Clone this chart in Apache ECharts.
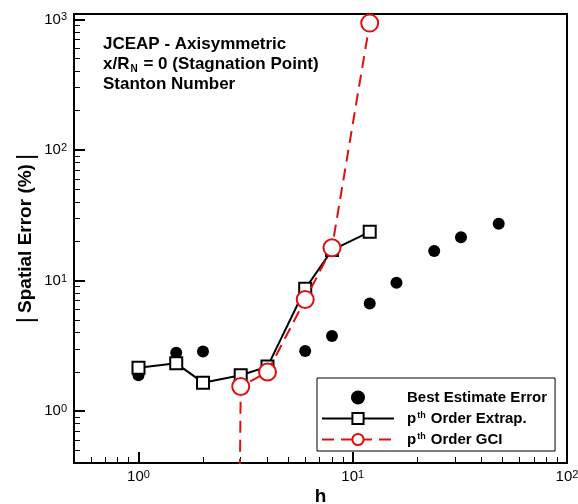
<!DOCTYPE html>
<html><head><meta charset="utf-8">
<script src="https://cdn.jsdelivr.net/npm/echarts@6/dist/echarts.min.js"></script>
<style>html,body{margin:0;padding:0;background:#fff}#c{width:578px;height:504px}</style>
</head><body><div id="c"></div>
<script>
// ---- data ----
const hBest = [1, 1.5, 2, 3, 4, 6, 8, 12, 16, 24, 32, 48];
const errBest = [1.88, 2.80, 2.86, 1.70, 2.02, 2.88, 3.75, 6.67, 9.6, 16.8, 21.4, 27.2];
const hExtrap = [1, 1.5, 2, 3, 4, 6, 8, 12];
const errExtrap = [2.15, 2.32, 1.65, 1.88, 2.19, 8.64, 17.1, 23.6];
const hGCI = [2, 3, 4, 6, 8, 12];
const errGCI = [1e-30, 1.54, 1.99, 7.16, 17.8, 937];
const seriesNames = ['Best Estimate Error', 'pth Order Extrap.', 'pth Order GCI'];
const xMajorTicks = [1, 10, 100];
const yMajorTicks = [1, 10, 100, 1000];
const xMinorTicks = [0.5, 0.6, 0.7, 0.8, 0.9, 2, 3, 4, 5, 6, 7, 8, 9, 20, 30, 40, 50, 60, 70, 80, 90];
const yMinorTicks = [0.4, 0.5, 0.6, 0.7, 0.8, 0.9, 2, 3, 4, 5, 6, 7, 8, 9, 20, 30, 40, 50, 60, 70, 80, 90, 200, 300, 400, 500, 600, 700, 800, 900];
const annotationLines = ['JCEAP - Axisymmetric', 'x/R', 'N', ' = 0 (Stagnation Point)', 'Stanton Number'];

const FONT = '"Liberation Sans", Arial, Helvetica, sans-serif';
const RED = '#dd1111';

const zip = (a, b) => a.map((v, i) => [v, b[i]]);
const powLabel = v => '{b|10}{s|' + Math.round(Math.log10(v)) + '}';
const supRich = {
  b: { fontSize: 15, lineHeight: 15, fontFamily: FONT, color: '#000', verticalAlign: 'middle' },
  s: { fontSize: 11, lineHeight: 11, fontFamily: FONT, color: '#000', verticalAlign: 'top', padding: [0, 0, 15, 0] }
};

const majorX = {
  type: 'log', gridIndex: 0, min: 0.5, max: 100, position: 'bottom',
  axisLine: { show: true, lineStyle: { color: '#000', width: 2 } },
  axisTick: { show: true, inside: true, length: 11, lineStyle: { color: '#000', width: 2 }, customValues: xMajorTicks },
  axisLabel: { show: true, margin: 6, formatter: powLabel, rich: supRich, customValues: xMajorTicks },
  splitLine: { show: false },
  name: 'h', nameLocation: 'middle', nameGap: 24, nameMoveOverlap: false,
  nameTextStyle: { fontFamily: FONT, fontSize: 19, fontWeight: 'bold', color: '#000' }
};
const minorX = {
  type: 'log', gridIndex: 0, min: 0.5, max: 100, position: 'bottom',
  axisLine: { show: false },
  axisTick: { show: true, inside: true, length: 6, lineStyle: { color: '#000', width: 1 }, customValues: xMinorTicks },
  axisLabel: { show: false },
  splitLine: { show: false }
};
const majorY = {
  type: 'log', gridIndex: 0, min: 0.4, max: 1100, position: 'left',
  axisLine: { show: true, lineStyle: { color: '#000', width: 2 } },
  axisTick: { show: true, inside: true, length: 11, lineStyle: { color: '#000', width: 2 }, customValues: yMajorTicks },
  axisLabel: { show: true, margin: 7, formatter: powLabel, rich: supRich, customValues: yMajorTicks },
  splitLine: { show: false },
  name: '{bar||}{t|Spatial Error (%)}{bar||}', nameLocation: 'middle', nameGap: 36, nameMoveOverlap: false,
  nameTextStyle: {
    fontFamily: FONT, fontSize: 19, fontWeight: 'bold', color: '#000',
    rich: {
      t: { fontFamily: FONT, fontSize: 19, fontWeight: 'bold', color: '#000' },
      bar: { fontFamily: FONT, fontSize: 24, fontWeight: 'normal', color: '#000', padding: [0, 4, 0, 4] }
    }
  }
};
const minorY = {
  type: 'log', gridIndex: 0, min: 0.4, max: 1100, position: 'left',
  axisLine: { show: false },
  axisTick: { show: true, inside: true, length: 6, lineStyle: { color: '#000', width: 1 }, customValues: yMinorTicks },
  axisLabel: { show: false },
  splitLine: { show: false }
};

const legendRich = {
  b: { fontFamily: FONT, fontSize: 15, fontWeight: 'bold', color: '#000' },
  sup: { fontFamily: FONT, fontSize: 9, fontWeight: 'bold', color: '#000', verticalAlign: 'top', padding: [0, 1, 6, 1] }
};

const chart = echarts.init(document.getElementById('c'), null, { renderer: 'canvas' });
chart.setOption({
  animation: false,
  backgroundColor: '#fff',
  grid: { left: 74, top: 14, right: 11, bottom: 41, show: true, borderColor: '#000', borderWidth: 2, backgroundColor: 'transparent', containLabel: false, outerBoundsMode: 'none' },
  xAxis: [majorX, minorX],
  yAxis: [majorY, minorY],
  legend: {
    orient: 'vertical', left: 317, top: 378,
    itemWidth: 72, itemHeight: 14, itemGap: 6,
    padding: [12, 8, 4, 4],
    borderColor: '#000', borderWidth: 1, backgroundColor: '#fff', borderRadius: 0,
    selectedMode: false,
    data: seriesNames,
    formatter: name => name.startsWith('pth') ? '{b|p}{sup|th}{b|' + name.slice(3) + '}' : '{b|' + name + '}',
    textStyle: { fontFamily: FONT, fontSize: 15, fontWeight: 'bold', color: '#000', padding: [0, 0, 0, 8], rich: legendRich }
  },
  graphic: [{
    type: 'text', left: 103, top: 36, z: 100,
    style: {
      text: '{b|' + annotationLines[0] + '}\n{b|' + annotationLines[1] + '}{sub|' + annotationLines[2] + '}{b|' + annotationLines[3] + '}\n{b|' + annotationLines[4] + '}',
      fill: '#000',
      font: 'bold 17px ' + FONT,
      rich: {
        b: { fontFamily: FONT, fontSize: 17, fontWeight: 'bold', lineHeight: 20, fill: '#000', color: '#000' },
        sub: { fontFamily: FONT, fontSize: 10, fontWeight: 'bold', lineHeight: 10, verticalAlign: 'bottom', fill: '#000', color: '#000', padding: [0, 1, 0, 1] }
      }
    }
  }],
  series: [
    {
      name: seriesNames[0], type: 'scatter', xAxisIndex: 0, yAxisIndex: 0,
      data: zip(hBest, errBest), symbol: 'circle', symbolSize: 12,
      itemStyle: { color: '#000', opacity: 1 }, z: 2
    },
    {
      name: seriesNames[1], type: 'line', xAxisIndex: 0, yAxisIndex: 0,
      data: zip(hExtrap, errExtrap), symbol: 'emptyRect', symbolSize: 12, showAllSymbol: true,
      lineStyle: { color: '#000', width: 2 },
      itemStyle: { color: '#000', borderColor: '#000', borderWidth: 1.3, opacity: 1 }, z: 3
    },
    {
      name: seriesNames[2], type: 'line', xAxisIndex: 0, yAxisIndex: 0,
      data: zip(hGCI, errGCI), symbol: 'emptyCircle', symbolSize: 17, showAllSymbol: true,
      lineStyle: { color: RED, width: 2, type: [12, 7] },
      itemStyle: { color: RED, borderColor: RED, borderWidth: 1.3, opacity: 1 }, z: 4
    }
  ]
});
</script>
</body></html>
